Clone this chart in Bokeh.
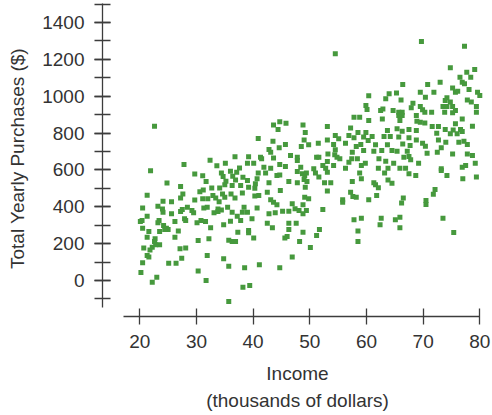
from bokeh.plotting import figure
from bokeh.models import SingleIntervalTicker, Range1d
from bokeh.embed import file_html
from bokeh.resources import INLINE

# Income (thousands of dollars)
income = [
    22.6, 21.9, 27.8, 32.4, 33.6, 35.1, 36.8, 39.0, 39.2, 29.7, 31.1, 34.4, 36.0, 37.1, 37.6,
    24.8, 27.2, 31.7, 34.7, 35.2, 36.4, 36.9, 38.2, 39.0, 39.2, 21.3, 27.6, 27.2, 30.6, 31.2,
    32.7, 34.1, 35.0, 36.3, 37.8, 24.1, 23.2, 25.6, 29.7, 31.1, 32.0, 32.9, 33.4, 34.0, 34.6,
    35.0, 36.1, 36.8, 38.1, 20.5, 24.0, 28.4, 27.5, 31.3, 33.8, 35.5, 38.4,
    24.1, 25.6, 27.2, 29.2, 29.5, 31.9, 33.1, 33.8, 34.4, 36.3, 37.2, 38.1, 39.0, 20.4, 20.1,
    21.3, 23.4, 23.2, 24.2, 24.7, 25.0, 24.4, 26.2, 27.9, 28.1, 30.1, 30.8, 31.6, 32.5, 34.8,
    36.0, 37.8, 39.2, 20.5, 21.6, 21.3, 23.5, 26.8, 26.2, 22.7, 22.6, 23.5, 22.8, 22.2, 21.8,
    20.7, 21.3, 21.6, 27.1, 28.1, 27.4, 30.3, 32.2, 35.7, 36.3, 36.9, 37.3, 31.9, 34.8, 35.7,
    38.5, 20.5, 20.2, 25.1, 26.4, 30.3, 23.0, 22.2, 31.7, 38.2, 39.4, 35.7,
    54.5, 60.4, 59.9, 60.1, 57.8, 58.8, 60.4, 44.7, 43.6, 45.8, 44.4, 48.8, 53.1, 57.2, 49.2,
    58.5, 59.9, 40.9, 43.5, 49.0, 53.1, 54.5, 55.1, 56.9, 57.8, 60.3, 59.5, 45.7, 44.6, 48.5,
    49.8, 51.5, 54.2, 56.3, 59.0, 42.8, 43.1, 46.6, 47.8, 54.5, 53.2, 54.4, 54.8, 57.5, 58.2,
    59.5, 41.3, 41.5, 43.6, 47.8, 51.2, 51.6, 53.1, 55.3, 57.4, 56.9, 58.4, 40.1, 41.9, 43.1,
    44.7, 45.7, 48.4, 50.7, 52.3, 52.8, 54.2, 56.3, 59.1, 59.8,
    40.9, 42.2, 44.2, 44.7, 47.8, 48.7, 49.1, 49.4, 51.0, 51.6, 53.1, 58.8, 59.1, 40.7, 40.4,
    42.8, 46.3, 47.8, 49.0, 49.5, 52.6, 53.7, 57.5, 40.3, 42.5, 44.8, 49.2, 53.1, 57.2, 40.3,
    41.0, 43.1, 43.6, 44.2, 49.1, 49.8, 55.8, 55.8, 57.6, 58.2, 60.4, 40.7, 39.8, 42.8, 43.9,
    45.2, 46.3, 46.9, 47.4, 48.1, 48.8, 49.4, 48.8, 52.3, 57.8, 59.1, 42.5, 43.4, 46.3, 47.6,
    46.3, 39.2, 40.1, 45.6, 46.0, 48.8, 51.7, 51.2, 58.5, 58.5, 48.2, 50.1, 46.9, 41.1, 44.7,
    69.7, 77.3, 74.8, 77.7, 79.1, 76.5, 78.4, 76.9, 77.3, 73.0, 70.8, 66.4, 75.2, 75.7, 76.1,
    78.1, 79.6, 80.0, 69.5, 70.4, 71.9, 64.0, 65.3, 63.4, 66.1, 74.2, 74.8, 73.9, 77.8, 78.5,
    68.2, 67.9, 69.5, 69.9, 70.3, 71.5, 73.5, 74.2, 75.2, 75.7, 75.2, 73.8, 79.4, 79.4, 62.5,
    62.9, 64.7, 65.7, 66.3, 65.7, 66.3, 62.8, 68.8, 68.9, 69.5, 70.3, 65.9, 76.9, 75.7, 78.7,
    71.6, 72.7, 73.9, 75.3, 76.6, 61.0, 63.7, 65.4, 66.3, 67.5, 68.8, 72.4, 74.8, 76.0, 76.9,
    63.1, 64.2, 65.7, 67.5, 68.8, 72.7, 74.0, 76.3, 77.2, 69.9, 70.4, 61.6, 63.7, 66.4, 67.7,
    73.2, 77.8, 61.3, 62.7, 64.5, 65.4, 67.2, 70.7, 72.5, 75.2, 77.8, 78.7, 66.6, 67.5, 62.2,
    63.4, 64.8, 67.8, 69.2, 62.1, 63.8, 65.9, 66.9, 73.2, 76.9, 77.5, 79.2,
    63.2, 67.5, 68.7, 73.2, 74.2, 77.0, 79.4, 61.3, 61.6, 62.1, 63.8, 64.5, 61.8, 66.5, 66.2,
    70.5, 70.5, 72.1, 71.8, 62.6, 62.4, 65.1, 65.9, 65.9, 73.5, 75.4,
]

# Total yearly purchases ($)
purchases = [
    837, 595, 629, 652, 622, 636, 671, 636, 671, 578, 569, 584, 593, 587, 611,
    529, 510, 537, 564, 539, 566, 546, 560, 542, 506, 463, 470, 448, 482, 491,
    502, 502, 520, 515, 515, 430, 403, 428, 437, 443, 443, 461, 448, 428, 470,
    452, 470, 448, 475, 394, 388, 397, 385, 394, 388, 397, 397,
    371, 362, 374, 380, 367, 398, 367, 374, 383, 371, 349, 371, 371, 326, 320,
    349, 326, 313, 298, 284, 277, 277, 320, 335, 326, 313, 326, 320, 286, 302,
    322, 326, 271, 284, 266, 235, 266, 268, 235, 226, 212, 194, 194, 181, 166,
    177, 136, 127, 172, 177, 121, 217, 226, 219, 212, 212, 262, 136, 118, 78,
    69, 96, 43, 94, 94, 52, 18, -9, 0, -36, -27, -114,
    1230, 1003, 949, 928, 886, 886, 868, 862, 844, 853, 819, 844, 835, 828, 803,
    803, 803, 770, 756, 763, 763, 787, 769, 787, 774, 760, 778, 738, 720, 727,
    736, 745, 738, 745, 738, 711, 696, 678, 669, 709, 687, 682, 669, 696, 727,
    705, 669, 660, 665, 651, 669, 669, 646, 660, 660, 642, 660, 636, 615, 609,
    629, 618, 615, 606, 624, 609, 624, 609, 624, 636,
    584, 584, 570, 573, 591, 579, 570, 584, 584, 561, 588, 584, 552, 552, 525,
    530, 537, 530, 548, 537, 530, 530, 537, 501, 479, 488, 506, 485, 479, 458,
    461, 438, 425, 411, 452, 443, 438, 425, 456, 452, 438, 394, 335, 362, 367,
    376, 376, 416, 389, 380, 362, 380, 411, 385, 329, 338, 311, 286, 311, 311,
    277, 259, 230, 230, 239, 262, 277, 244, 268, 211, 211, 179, 128, 85, 69,
    1297, 1271, 1154, 1130, 1145, 1103, 1103, 1076, 1067, 1076, 1063, 1063, 1045, 1022, 1027,
    1036, 1022, 1004, 1022, 995, 1022, 1013, 1018, 986, 980, 991, 968, 977, 980, 968,
    962, 937, 944, 926, 913, 913, 944, 944, 944, 922, 910, 913, 944, 913, 922,
    931, 922, 913, 913, 895, 895, 877, 895, 864, 859, 854, 868, 877, 850, 837,
    835, 835, 819, 817, 819, 781, 814, 823, 810, 819, 814, 799, 796, 796, 808,
    781, 781, 778, 774, 763, 763, 750, 750, 756, 745, 729, 736, 736, 741, 732,
    720, 738, 702, 705, 705, 702, 702, 691, 696, 687, 687, 678, 669, 673, 660,
    647, 636, 655, 636, 609, 609, 609, 609, 606, 615, 624, 636,
    584, 579, 570, 597, 570, 552, 561, 530, 519, 503, 546, 528, 461, 447, 420,
    434, 412, 494, 468, 338, 302, 329, 343, 286, 338, 260,
]

x_label = "Income\n(thousands of dollars)"
y_label = "Total Yearly Purchases ($)"

FONT = "Liberation Sans"
FONT_SIZE = "19px"
AXIS_COLOR = "#3c3c3c"
TEXT_COLOR = "#333333"
POINT_COLOR = "#46993d"

p = figure(width=492, height=415, output_backend="svg", toolbar_location=None,
           x_range=Range1d(13.42, 82.24), y_range=Range1d(-195.3, 1519.3),
           min_border_left=102, min_border_right=0, min_border_top=0,
           min_border_bottom=99)

p.scatter(income, purchases, marker="square", size=5,
          fill_color=POINT_COLOR, line_color=None)

p.xgrid.grid_line_color = None
p.ygrid.grid_line_color = None
p.outline_line_color = None

p.xaxis.ticker = SingleIntervalTicker(interval=10, num_minor_ticks=0)
p.yaxis.ticker = SingleIntervalTicker(interval=200, num_minor_ticks=2)
p.xaxis.bounds = (17.1, 80)
p.yaxis.bounds = (-146, 1503)

for ax in (p.xaxis[0], p.yaxis[0]):
    ax.axis_line_color = AXIS_COLOR
    ax.axis_line_width = 1.3
    ax.major_tick_line_color = AXIS_COLOR
    ax.major_tick_line_width = 1.3
    ax.minor_tick_line_color = AXIS_COLOR
    ax.minor_tick_line_width = 1.3
    ax.major_tick_in = 8
    ax.major_tick_out = 8
    ax.minor_tick_in = 8
    ax.minor_tick_out = 8
    ax.major_label_text_font = FONT
    ax.major_label_text_font_size = FONT_SIZE
    ax.major_label_text_color = TEXT_COLOR
    ax.major_label_standoff = 10
    ax.axis_label_text_font = FONT
    ax.axis_label_text_font_size = FONT_SIZE
    ax.axis_label_text_font_style = "normal"
    ax.axis_label_text_color = TEXT_COLOR

p.xaxis.axis_label = x_label
p.yaxis.axis_label = y_label
p.xaxis.axis_label_standoff = 12
p.xaxis.axis_label_text_line_height = 1.3
p.yaxis.axis_label_standoff = 11

open("out.html", "w").write(file_html(p, INLINE))
